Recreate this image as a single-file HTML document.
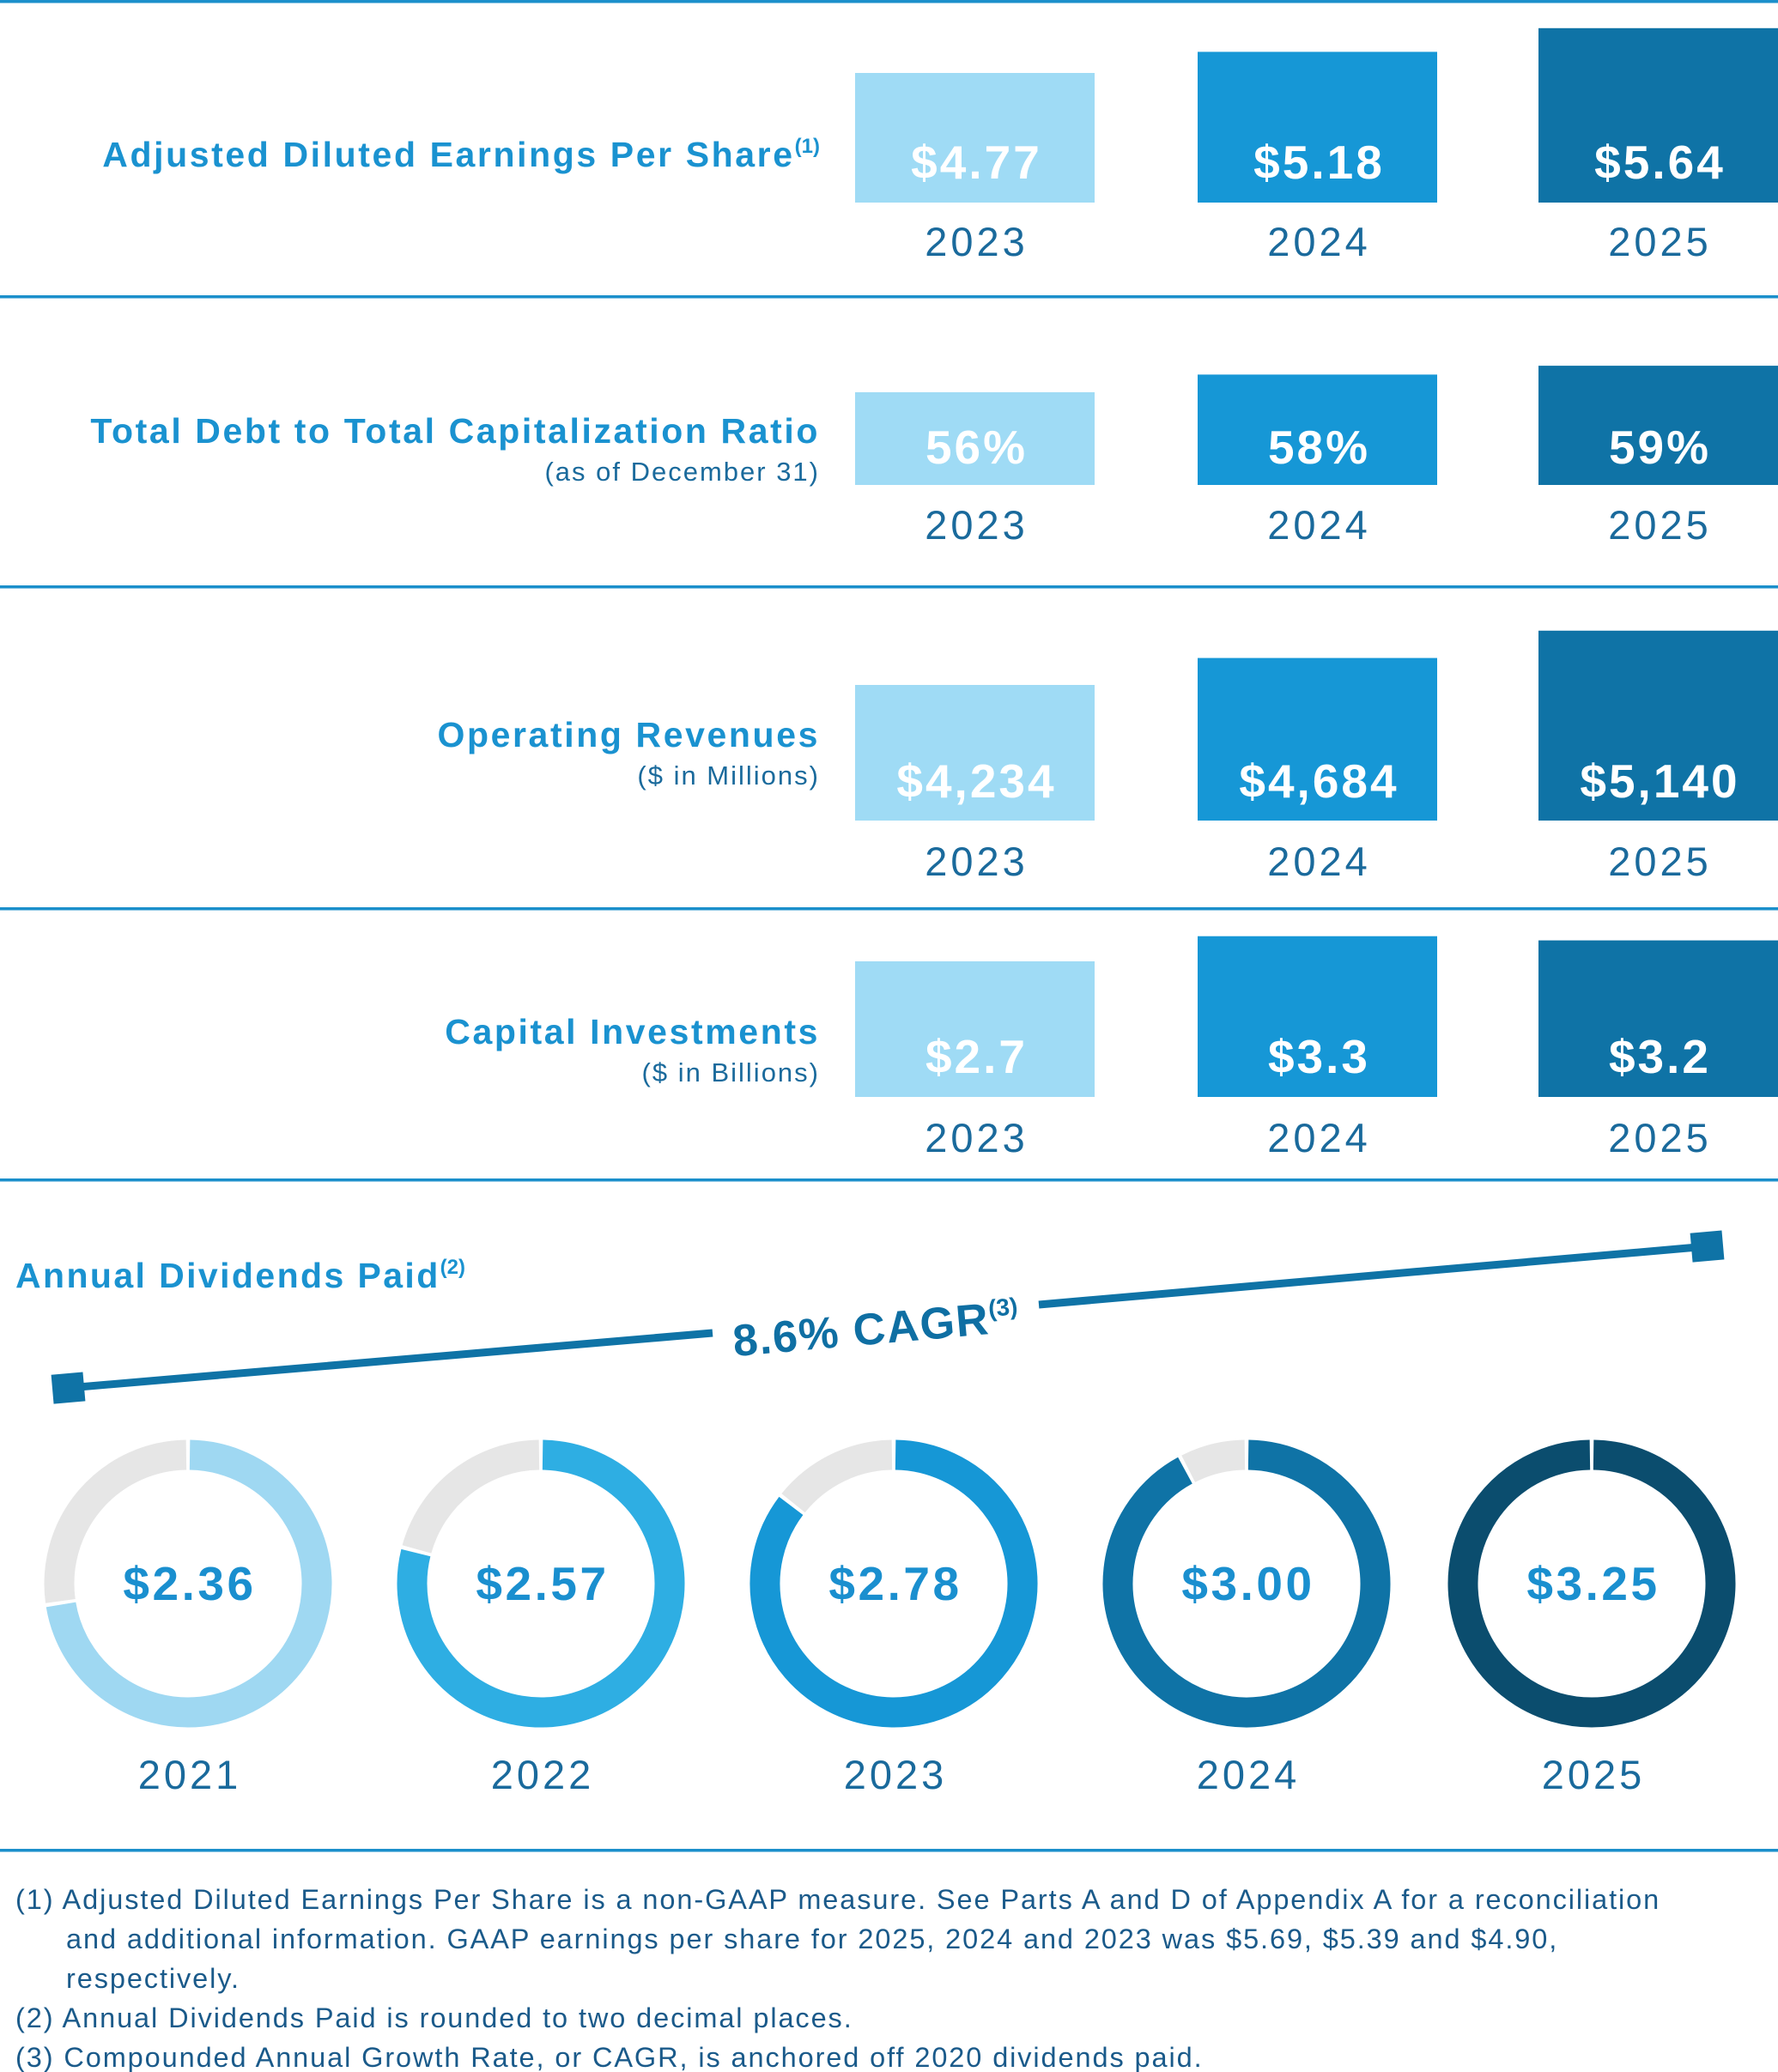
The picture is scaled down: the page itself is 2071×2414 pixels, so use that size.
<!DOCTYPE html>
<html><head><meta charset="utf-8"><style>
html,body{margin:0;padding:0;background:#fff;}
svg{display:block;font-family:"Liberation Sans",sans-serif;}
</style></head><body>
<svg id="chart" width="2071" height="2414" viewBox="0 0 2071 2414">
</svg>
<script>
const years = ["2023","2024","2025"];
const epsValues = [4.77, 5.18, 5.64];
const epsLabels = ["$4.77","$5.18","$5.64"];
const debtValues = [56, 58, 59];
const debtLabels = ["56%","58%","59%"];
const revValues = [4234, 4684, 5140];
const revLabels = ["$4,234","$4,684","$5,140"];
const capexValues = [2.7, 3.3, 3.2];
const capexLabels = ["$2.7","$3.3","$3.2"];
const divYears = ["2021","2022","2023","2024","2025"];
const divValues = [2.36, 2.57, 2.78, 3.00, 3.25];
const divLabels = ["$2.36","$2.57","$2.78","$3.00","$3.25"];

const NS = "http://www.w3.org/2000/svg";
const svg = document.getElementById("chart");
function mk(tag, attrs, parent, text){
  const e = document.createElementNS(NS, tag);
  for (const k in attrs) e.setAttribute(k, attrs[k]);
  if (text !== undefined) e.textContent = text;
  (parent || svg).appendChild(e);
  return e;
}
const barColors = ["#9fdbf5","#1697d6","#0f73a6"];
const barX = [996, 1395, 1792];
const barW = 279;
const lineColor = "#1b8fcb";

[2, 346, 684, 1059, 1375, 2156].forEach((y,i)=>{
  const l = mk("rect",{x:0,y:y-2,width:2071,height:3.5,fill:lineColor});
  
  
});

const sections = [
  {name:"eps", title:"Adjusted Diluted Earnings Per Share", sup:"(1)", sub:null, vals:epsValues, labels:epsLabels, bottom:236, v0:4.77, h0:151, slope:60, titleY:194, valY:208, yearY:298},
  {name:"debt", title:"Total Debt to Total Capitalization Ratio", sup:null, sub:"(as of December 31)", vals:debtValues, labels:debtLabels, bottom:565, v0:56, h0:108, slope:10.3, titleY:516, valY:540, yearY:628},
  {name:"revenues", title:"Operating Revenues", sup:null, sub:"($ in Millions)", vals:revValues, labels:revLabels, bottom:956, v0:4234, h0:158, slope:0.0698, titleY:870, valY:929, yearY:1020},
  {name:"capex", title:"Capital Investments", sup:null, sub:"($ in Billions)", vals:capexValues, labels:capexLabels, bottom:1278, v0:2.7, h0:158, slope:48.8, titleY:1216, valY:1250, yearY:1342}
];
sections.forEach(s=>{
  const g = mk("g",{});
  
  
  const t = mk("text",{x:955,y:s.titleY,"text-anchor":"end","font-size":41,"font-weight":"bold",fill:"#1a92d0","letter-spacing":2.6},g);
  
  
  mk("tspan",{},t,s.title);
  if (s.sup){ mk("tspan",{"font-size":24,dy:-16,"letter-spacing":0},t,s.sup); }
  if (s.sub){
    const st = mk("text",{x:955,y:s.titleY+44,"text-anchor":"end","font-size":31,fill:"#1a6a9c","letter-spacing":2},g,s.sub);
    
    
  }
  const hScale = v => s.h0 + (v - s.v0)*s.slope;
  s.vals.forEach((v,i)=>{
    const h = hScale(v);
    const r = mk("rect",{x:barX[i],y:s.bottom-h,width:barW,height:h,fill:barColors[i]},g);
    
    
    const vt = mk("text",{x:barX[i]+barW/2+2,y:s.valY,"text-anchor":"middle","font-size":55,"font-weight":"bold",fill:"#fff","letter-spacing":3},g,s.labels[i]);
    
    
    const yt = mk("text",{x:barX[i]+barW/2+2,y:s.yearY,"text-anchor":"middle","font-size":47,fill:"#1a6a9c","letter-spacing":4},g,years[i]);
    
    
  });
});

const dt = mk("text",{x:18,y:1500,"font-size":41,"font-weight":"bold",fill:"#1a92d0","letter-spacing":2.4});


mk("tspan",{},dt,"Annual Dividends Paid");
mk("tspan",{"font-size":24,dy:-16,"letter-spacing":0},dt,"(2)");

const cg = mk("g",{});


mk("line",{x1:80,y1:1617,x2:830,y2:1553,stroke:"#0f73a6","stroke-width":9},cg);
mk("line",{x1:1210,y1:1520,x2:1989,y2:1452,stroke:"#0f73a6","stroke-width":9},cg);
mk("rect",{x:61,y:1600,width:37,height:34,fill:"#0f73a6",transform:"rotate(-5 80 1617)"},cg);
mk("rect",{x:1970,y:1435,width:37,height:34,fill:"#0f73a6",transform:"rotate(-5 1989 1452)"},cg);
const ct = mk("text",{x:1020,y:1566,"text-anchor":"middle","font-size":52,"font-weight":"bold",fill:"#0f6fa3",transform:"rotate(-5 1016 1548)","letter-spacing":1.5},cg);


mk("tspan",{},ct,"8.6% CAGR");
mk("tspan",{"font-size":28,dy:-20,"letter-spacing":0},ct,"(3)");

const donutColors = ["#9fd8f2","#2eaee3","#1697d6","#0f73a6","#0b4d6e"];
const donutCX = [219, 630, 1041, 1452, 1854];
const cy = 1845, R = 150, SW = 35;
const maxDiv = Math.max(...divValues);
function arc(cx, cy, r, a0, a1){
  const p = a => [cx + r*Math.sin(a*Math.PI/180), cy - r*Math.cos(a*Math.PI/180)];
  const [x0,y0]=p(a0),[x1,y1]=p(a1);
  const large = (a1-a0)>180?1:0;
  return `M${x0} ${y0} A${r} ${r} 0 ${large} 1 ${x1} ${y1}`;
}
divValues.forEach((v,i)=>{
  const g = mk("g",{});
  
  
  const ang = v/maxDiv*360;
  const cx = donutCX[i];
  if (ang < 359.5){
    mk("path",{d:arc(cx,cy,R,ang+0.8,359.2),fill:"none",stroke:"#e6e6e6","stroke-width":SW},g);
    mk("path",{d:arc(cx,cy,R,0.8,ang-0.8),fill:"none",stroke:donutColors[i],"stroke-width":SW},g);
  } else {
    mk("path",{d:arc(cx,cy,R,0.8,359.2),fill:"none",stroke:donutColors[i],"stroke-width":SW},g);
  }
  const vt = mk("text",{x:cx+2,y:cy+19,"text-anchor":"middle","font-size":55,"font-weight":"bold",fill:"#1a8fcf","letter-spacing":3.5},g,divLabels[i]);
  
  
  const yt = mk("text",{x:cx+2,y:2084,"text-anchor":"middle","font-size":47,fill:"#1a6a9c","letter-spacing":4},g,divYears[i]);
  
  
});

const notes = [
  [18,2224,"(1) Adjusted Diluted Earnings Per Share is a non-GAAP measure. See Parts A and D of Appendix A for a reconciliation"],
  [77,2270,"and additional information. GAAP earnings per share for 2025, 2024 and 2023 was $5.69, $5.39 and $4.90,"],
  [77,2316,"respectively."],
  [18,2362,"(2) Annual Dividends Paid is rounded to two decimal places."],
  [18,2408,"(3) Compounded Annual Growth Rate, or CAGR, is anchored off 2020 dividends paid."]
];
notes.forEach(n=>{
  const t = mk("text",{x:n[0],y:n[1],"font-size":32.5,fill:"#1a5a8a","letter-spacing":1.9},svg,n[2]);
  
  
});
</script>
</body></html>
